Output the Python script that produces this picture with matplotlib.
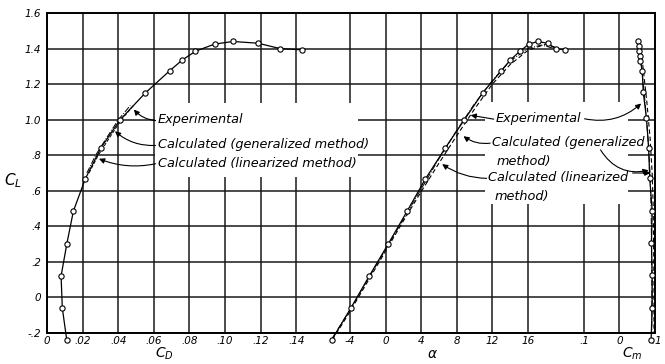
import numpy as np
import matplotlib.pyplot as plt
from matplotlib.patches import Rectangle

# experimental points (lift, drag, angle of attack)
cl_exp = [-0.24, -0.06, 0.12, 0.30, 0.485, 0.665, 0.84, 1.00, 1.15, 1.275,
          1.335, 1.385, 1.425, 1.44, 1.43, 1.40, 1.393]
cd_exp = [0.0111, 0.0086, 0.0079, 0.0111, 0.0148, 0.0214, 0.0302, 0.0411,
          0.0552, 0.0689, 0.0759, 0.0834, 0.0941, 0.1044, 0.1187, 0.1309, 0.1435]
alpha_exp = [-6.05, -3.9, -1.84, 0.29, 2.42, 4.46, 6.7, 8.86, 10.9, 13.0,
             14.0, 15.1, 16.1, 17.1, 18.2, 19.1, 20.2]

# experimental pitching moment
cl_cm = [1.444, 1.416, 1.388, 1.36, 1.33, 1.275, 1.153, 1.007, 0.843, 0.674,
         0.486, 0.308, 0.124, -0.058, -0.237]
cm_exp = [-0.051, -0.054, -0.056, -0.059, -0.059, -0.064, -0.067, -0.076,
          -0.082, -0.085, -0.092, -0.090, -0.092, -0.092, -0.089]

# calculated curves
alpha_gen = [-6.0, -4, -2, 0, 2, 4, 6, 8, 10, 12, 14, 16, 17.5, 19]
cl_gen = [-0.23, -0.07, 0.10, 0.27, 0.44, 0.61, 0.78, 0.94, 1.09, 1.22, 1.33, 1.40, 1.42, 1.40]
alpha_lin = [-6.0, -4, -2, 0, 2, 4, 6, 8, 10, 12, 14, 16, 18, 19.5]
cl_lin = [-0.24, -0.08, 0.09, 0.26, 0.43, 0.595, 0.755, 0.91, 1.06, 1.20, 1.31, 1.39, 1.425, 1.40]

cl_cdcalc = [0.70, 0.80, 0.90, 1.00, 1.08]
cd_gen = [0.0224, 0.0273, 0.0336, 0.0401, 0.0468]
cd_lin = [0.0236, 0.0288, 0.0352, 0.0418, 0.0486]

cl_cmcalc = [1.43, 1.3, 1.1, 0.9, 0.7, 0.5, 0.3, 0.1, -0.1, -0.2]
cm_gen = [-0.055, -0.062, -0.072, -0.080, -0.086, -0.089, -0.090, -0.091, -0.091, -0.091]
cm_lin = [-0.058, -0.066, -0.077, -0.086, -0.092, -0.095, -0.096, -0.097, -0.097, -0.097]

# tick values / labels
cd_ticks = [0, 0.02, 0.04, 0.06, 0.08, 0.10, 0.12, 0.14]
cd_labels = ['0', '.02', '.04', '.06', '.08', '.10', '.12', '.14']
alpha_ticks = [-4, 0, 4, 8, 12, 16]
alpha_labels = ['-4', '0', '4', '8', '12', '16']
cm_ticks = [0.1, 0, -0.1]
cm_labels = ['.1', '0', '-.1']
cl_ticks = [-0.2, 0, 0.2, 0.4, 0.6, 0.8, 1.0, 1.2, 1.4, 1.6]
cl_labels = ['-.2', '0', '.2', '.4', '.6', '.8', '1.0', '1.2', '1.4', '1.6']

# one grid cell per unit on the shared x axis, three scales side by side
def cd_u(v):
    return np.asarray(v) / 0.02

def a_u(v):
    return 9.51 + np.asarray(v) / 4.0

def m_u(v):
    return 16.08 - np.asarray(v) / 0.1

fig = plt.figure(figsize=(6.65, 3.64), dpi=100)
ax = fig.add_axes([0.0707, 0.0852, 0.9143, 0.879])
ax.set_xlim(0, 17.08)
ax.set_ylim(-0.2, 1.6)

xt = np.concatenate([cd_u(cd_ticks), a_u(alpha_ticks), m_u(cm_ticks)])
ax.set_xticks(xt)
ax.set_xticklabels(cd_labels + alpha_labels + cm_labels, fontstyle='italic', fontsize=7.5)
ax.set_yticks(cl_ticks)
ax.set_yticklabels(cl_labels, fontstyle='italic', fontsize=7.5)
ax.tick_params(axis='x', length=0, pad=2)
ax.tick_params(axis='y', length=0, pad=4)
ax.grid(True, color='#1a1a1a', lw=1.1)
for s in ax.spines.values():
    s.set_linewidth(1.4)

# blank areas behind the notes
ax.add_patch(Rectangle((3.03, 0.675), 5.71, 0.42, facecolor='white', edgecolor='none', zorder=1.8))
ax.add_patch(Rectangle((12.3, 0.523), 4.02, 0.574, facecolor='white', edgecolor='none', zorder=1.8))

mk = dict(marker='o', ms=3.8, mfc='white', mec='k', mew=0.8, color='k', lw=0.9, clip_on=False, zorder=3)

# drag polar
ax.plot(cd_u(cd_exp), cl_exp, **mk)
ax.plot(cd_u(cd_gen), cl_cdcalc, color='k', lw=0.7, ls='-.', zorder=2.5)
ax.plot(cd_u(cd_lin), cl_cdcalc, color='k', lw=0.7, ls='--', zorder=2.5)

# lift curve
ax.plot(a_u(alpha_gen), cl_gen, color='k', lw=0.7, ls='-.', zorder=2.5, clip_on=False)
ax.plot(a_u(alpha_lin), cl_lin, color='k', lw=0.8, ls=(0, (4, 2.5)), zorder=2.5, clip_on=False)
ax.plot(a_u(alpha_exp), cl_exp, **mk)

# moment curve
ax.plot(m_u(cm_gen), cl_cmcalc, color='k', lw=0.7, ls='-.', zorder=2.5, clip_on=False)
ax.plot(m_u(cm_lin), cl_cmcalc, color='k', lw=0.8, ls=(0, (4, 2.5)), zorder=2.5, clip_on=False)
ax.plot(m_u(cm_exp), cl_cm, **mk)

tkw = dict(fontsize=9.3, fontstyle='italic', va='center', ha='left', zorder=4)
ap = dict(arrowstyle='-|>', color='k', lw=0.8, mutation_scale=8, shrinkA=0, shrinkB=0)

# left notes
ax.text(3.12, 1.0, 'Experimental', **tkw)
ax.text(3.12, 0.86, 'Calculated (generalized method)', **tkw)
ax.text(3.12, 0.755, 'Calculated (linearized method)', **tkw)
ax.annotate('', xy=(2.44, 1.057), xytext=(3.05, 0.995),
            arrowprops=dict(ap, connectionstyle='arc3,rad=-0.2'))
ax.annotate('', xy=(1.91, 0.935), xytext=(3.05, 0.855),
            arrowprops=dict(ap, connectionstyle='arc3,rad=-0.2'))
ax.annotate('', xy=(1.46, 0.78), xytext=(3.05, 0.752),
            arrowprops=dict(ap, connectionstyle='arc3,rad=-0.15'))

# right notes
ax.text(12.6, 1.005, 'Experimental', **tkw)
ax.text(12.5, 0.872, 'Calculated (generalized', **tkw)
ax.text(12.64, 0.765, 'method)', **tkw)
ax.text(12.4, 0.672, 'Calculated (linearized', **tkw)
ax.text(12.58, 0.568, 'method)', **tkw)
ax.annotate('', xy=(11.9, 1.025), xytext=(12.55, 1.003),
            arrowprops=dict(ap, connectionstyle='arc3,rad=0'))
ax.annotate('', xy=(11.7, 0.907), xytext=(12.45, 0.868),
            arrowprops=dict(ap, connectionstyle='arc3,rad=-0.2'))
ax.annotate('', xy=(11.1, 0.75), xytext=(12.35, 0.67),
            arrowprops=dict(ap, connectionstyle='arc3,rad=-0.15'))
ax.annotate('', xy=(16.69, 1.091), xytext=(15.1, 1.005),
            arrowprops=dict(ap, connectionstyle='arc3,rad=0.25'))
ax.annotate('', xy=(16.9, 0.715), xytext=(15.55, 0.83),
            arrowprops=dict(ap, connectionstyle='arc3,rad=0.35'))
ax.annotate('', xy=(16.95, 0.7), xytext=(16.45, 0.7),
            arrowprops=dict(ap, connectionstyle='arc3,rad=0'))

# axis names
lkw = dict(fontsize=10, ha='center', va='center', clip_on=False)
ax.text(3.31, -0.318, r'$C_D$', **lkw)
ax.text(10.84, -0.318, r'$\alpha$', **lkw)
ax.text(16.43, -0.318, r'$C_m$', **lkw)
fig.text(0.02, 0.505, r'$C_L$', fontsize=11, ha='center', va='center')

fig.savefig('out.png', dpi=100)
